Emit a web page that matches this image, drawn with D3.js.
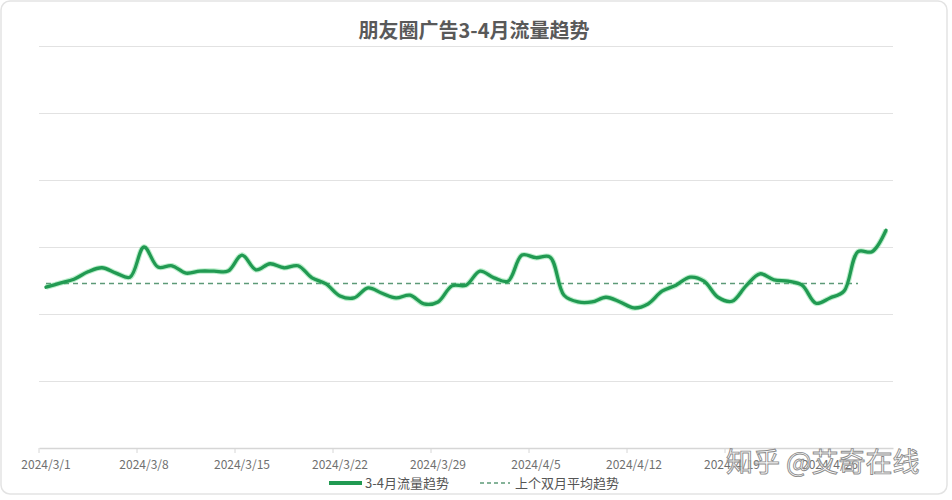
<!DOCTYPE html>
<html><head><meta charset="utf-8">
<script src="https://cdn.jsdelivr.net/npm/d3@7"></script>
<style>html,body{margin:0;padding:0;background:#fff;}svg{display:block;font-family:"Noto Sans CJK SC","Noto Sans",sans-serif;}</style>
</head><body>
<script>
const title = "朋友圈广告3-4月流量趋势";
const seriesNames = ["3-4月流量趋势", "上个双月平均趋势"];
// dates 2024/3/1 .. 2024/4/30
const dates = (() => { const a=[]; for(let d=1; d<=31; d++) a.push("2024/3/"+d); for(let d=1; d<=30; d++) a.push("2024/4/"+d); return a; })();
const trafficValues = [24.0,24.6,25.2,26.3,26.9,26.1,25.5,30.0,27.0,27.2,
  26.1,26.4,26.4,26.4,28.8,26.6,27.5,26.9,27.2,25.4,
  24.5,22.7,22.4,23.9,23.1,22.4,22.8,21.5,21.8,24.2,
  24.3,26.4,25.4,24.9,28.8,28.4,28.5,22.8,21.8,21.8,
  22.5,21.8,20.9,21.5,23.4,24.3,25.5,24.9,22.5,21.9,
  24.2,26.0,25.1,24.9,24.3,21.6,22.4,23.4,29.3,29.3,32.5];
const avgValues = [24.55,24.55,24.55,24.55,24.55,24.55,24.55,24.55,24.55,24.55,
  24.55,24.55,24.55,24.55,24.55,24.55,24.55,24.55,24.55,24.55,
  24.55,24.55,24.55,24.55,24.55,24.55,24.55,24.55,24.55,24.55,
  24.55,24.55,24.55,24.55,24.55,24.55,24.55,24.55,24.55,24.55,
  24.55,24.55,24.55,24.55,24.55,24.55,24.55,24.55,24.55,24.55,
  24.55,24.55,24.55,24.55,24.55,24.55,24.55,24.55,24.55];
const yTicks = [0,10,20,30,40,50,60];
const watermark = "知乎 @艾奇在线";

(function(){
const W=952,H=500;
const svg=d3.select("body").append("svg").attr("width",W).attr("height",H);
svg.append("rect").attr("x",1).attr("y",1).attr("width",946).attr("height",493).attr("rx",9)
  .attr("fill","#fff").attr("stroke","#e3e3e3").attr("stroke-width",1.5);

const pl=39,pr=893,pt=46,pb=448;
const x=d3.scaleBand().domain(dates).range([pl,pr]).paddingInner(0).paddingOuter(0);
const y=d3.scaleLinear().domain([0,60]).range([pb,pt]);
const cx=d=>x(d)+x.bandwidth()/2;

svg.append("text").attr("x",474).attr("y",38).attr("text-anchor","middle")
  .attr("font-size",20).attr("font-weight","bold").attr("fill","#595959").text(title);

svg.append("g").selectAll("line").data(yTicks.filter(t=>t>0)).join("line")
  .attr("x1",pl).attr("x2",pr).attr("y1",d=>Math.round(y(d))+0.5).attr("y2",d=>Math.round(y(d))+0.5)
  .attr("stroke","#e2e2e2").attr("stroke-width",1.2);

// x axis
const labelDates = dates.filter((d,i)=>i%7===0);
const ax=svg.append("g").attr("transform",`translate(0,${pb})`)
  .call(d3.axisBottom(x).tickValues(labelDates).tickSize(0).tickPadding(12));
ax.select(".domain").attr("stroke","#d6d6d6").attr("stroke-width",1.5);
ax.selectAll("text").attr("font-size",12).attr("fill","#707070").attr("font-family","\"Noto Sans CJK SC\",sans-serif");
svg.append("g").selectAll("line").data(labelDates).join("line")
  .attr("x1",d=>x(d)).attr("x2",d=>x(d)).attr("y1",pb).attr("y2",pb+5)
  .attr("stroke","#d6d6d6").attr("stroke-width",1);

const curve=d3.curveCatmullRom.alpha(0.5);
const avgLine=d3.line().x((d,i)=>cx(dates[i])).y(d=>y(d));
svg.append("path").datum(avgValues).attr("d",avgLine).attr("fill","none")
  .attr("stroke","#5d9a78").attr("stroke-width",1.4).attr("stroke-dasharray","5,4");
const line=d3.line().x((d,i)=>cx(dates[i])).y(d=>y(d)).curve(curve);
svg.append("path").datum(trafficValues).attr("d",line).attr("fill","none")
  .attr("stroke","#3ccf6a").attr("stroke-opacity",0.35).attr("stroke-width",5.5).attr("stroke-linejoin","round");
svg.append("path").datum(trafficValues).attr("d",line).attr("fill","none")
  .attr("stroke","#219a52").attr("stroke-width",3.3).attr("stroke-linejoin","round").attr("stroke-linecap","round");

// legend
const lg=svg.append("g");
lg.append("line").attr("x1",329).attr("x2",362).attr("y1",483).attr("y2",483).attr("stroke","#219a52").attr("stroke-width",4);
lg.append("text").attr("x",365).attr("y",488).attr("font-size",13).attr("fill","#555").text(seriesNames[0]);
lg.append("line").attr("x1",480).attr("x2",510).attr("y1",483).attr("y2",483).attr("stroke","#5d9a78").attr("stroke-width",1.4).attr("stroke-dasharray","4,3");
lg.append("text").attr("x",515).attr("y",488).attr("font-size",13).attr("fill","#555").text(seriesNames[1]);

svg.append("text").attr("x",726).attr("y",472).attr("font-size",27).attr("fill","rgba(255,255,255,0.55)")
  .attr("stroke","#8c8c8c").attr("stroke-width",0.9).attr("xml:space","preserve").text(watermark);
})();
</script>
</body></html>
